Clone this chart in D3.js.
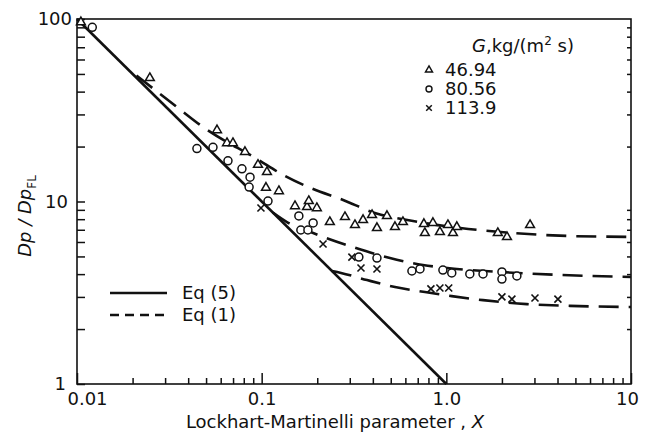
<!DOCTYPE html>
<html>
<head>
<meta charset="utf-8">
<script src="https://cdn.jsdelivr.net/npm/d3@7"></script>
<style>
  body { margin: 0; background: #fff; }
  text { font-family: "DejaVu Sans", "Liberation Sans", sans-serif; fill: #111; }
</style>
</head>
<body>
<div id="chart"></div>
<script>
// values (X, Dp/DpFL)
const triangleData = [[0.0105,96],[0.0248,47.5],[0.0573,24.6],[0.0649,20.9],[0.0699,20.9],[0.0812,18.7],
  [0.0955,15.9],[0.1068,14.5],[0.1055,11.9],[0.124,11.4],[0.1515,9.44],[0.176,9.33],[0.18,10.06],[0.199,9.2],
  [0.234,7.72],[0.2825,8.22],[0.32,7.43],[0.354,7.92],[0.396,8.43],[0.421,7.16],[0.477,8.33],[0.527,7.25],
  [0.582,7.72],[0.756,7.53],[0.846,7.63],[0.765,6.72],[0.923,6.81],[1.02,7.43],[1.086,6.72],[1.14,7.25],
  [1.9,6.72],[2.13,6.39],[2.84,7.43]];
const circleData = [[0.0121,90],[0.0446,19.5],[0.0545,19.8],[0.0657,16.7],[0.0782,15.1],[0.0865,13.6],
  [0.0855,12.0],[0.1082,10.06],[0.159,8.33],[0.163,6.98],[0.178,6.98],[0.19,7.63],[0.336,4.96],[0.421,4.9],
  [0.651,4.16],[0.72,4.27],[0.958,4.21],[1.07,4.06],[1.34,4.01],[1.58,4.01],[2.0,4.11],[2.0,3.76],[2.41,3.91]];
const crossData = [[0.0991,9.21],[0.215,5.85],[0.308,4.96],[0.345,4.32],[0.421,4.27],[0.825,3.32],
  [0.923,3.36],[1.03,3.36],[2.0,3.0],[2.265,2.92],[3.02,2.96],[4.02,2.92]];

const eq5Line = [[0.01,100],[1,1]];
const eq1Upper = [[0.021,49],[0.0348,32.9],[0.0481,25.6],[0.0943,17.1],[0.1337,13.8],[0.19,11.7],
  [0.276,10.2],[0.41,8.65],[0.66,7.82],[1.19,7.16],[2.29,6.72],[4.67,6.47],[10,6.4]];
const eq1Middle = [[0.115,8.7],[0.137,7.72],[0.19,6.72],[0.312,5.63],[0.495,4.9],[0.747,4.49],
  [1.14,4.27],[1.95,4.11],[4.12,3.96],[10,3.86]];
const eq1Lower = [[0.24,4.16],[0.269,4.06],[0.372,3.71],[0.527,3.4],[0.766,3.19],[1.07,3.03],
  [1.58,2.88],[2.73,2.74],[4.67,2.68],[10,2.64]];

const xMajor = [0.01, 0.1, 1, 10];
const xTickLabels = ["0.01", "0.1", "1.0", "10"];
const yMajor = [1, 10, 100];
const yTickLabels = ["1", "10", "100"];
const legendSeries = ["46.94", "80.56", "113.9"];

const width = 645, height = 434;
const plotLeft = 77, plotRight = 631, plotTop = 19, plotBottom = 384;

const svg = d3.select("#chart").append("svg")
  .attr("width", width)
  .attr("height", height);

const x = d3.scaleLog().domain([0.01, 10]).range([plotLeft, plotRight]);
const y = d3.scaleLog().domain([1, 100]).range([plotBottom, plotTop]);

const minorX = [];
[0.01, 0.1, 1].forEach(d => { for (let k = 2; k <= 9; k++) minorX.push(d * k); });
const minorY = [];
[1, 10].forEach(d => { for (let k = 2; k <= 9; k++) minorY.push(d * k); });

// frame
svg.append("rect")
  .attr("x", plotLeft).attr("y", plotTop)
  .attr("width", plotRight - plotLeft).attr("height", plotBottom - plotTop)
  .attr("fill", "none").attr("stroke", "#111").attr("stroke-width", 1.6);

function styleAxis(g) {
  g.select(".domain").remove();
  g.selectAll("line").attr("stroke", "#111").attr("stroke-width", 1.5);
  g.selectAll("text").attr("font-size", 18).attr("font-family", "DejaVu Sans, sans-serif").attr("fill", "#111");
}

// x axis, ticks inward
svg.append("g").attr("transform", `translate(0,${plotBottom})`)
  .call(d3.axisBottom(x).tickValues(minorX).tickSize(-6).tickFormat(""))
  .call(styleAxis);
svg.append("g").attr("transform", `translate(0,${plotBottom})`)
  .call(d3.axisBottom(x).tickValues(xMajor).tickSize(-11).tickPadding(8)
    .tickFormat((d, i) => xTickLabels[i]))
  .call(styleAxis)
  .call(g => g.selectAll(".tick text").attr("dx", d => d === 0.01 ? 10 : (d === 10 ? -4 : 0)));

// y axis, ticks inward
svg.append("g").attr("transform", `translate(${plotLeft},0)`)
  .call(d3.axisLeft(y).tickValues(minorY).tickSize(-8).tickFormat(""))
  .call(styleAxis);
svg.append("g").attr("transform", `translate(${plotLeft},0)`)
  .call(d3.axisLeft(y).tickValues(yMajor).tickSize(-8).tickPadding(7)
    .tickFormat((d, i) => yTickLabels[i]))
  .call(styleAxis)
  .call(g => g.selectAll(".tick text").attr("dx", d => d === 100 ? 2 : (d === 1 ? -4 : -2)));

// right side small ticks
svg.append("g").attr("transform", `translate(${plotRight},0)`)
  .call(d3.axisRight(y).tickValues(minorY).tickSize(-4).tickFormat(""))
  .call(styleAxis);

// lines
const line = d3.line().x(d => x(d[0])).y(d => y(d[1]));
const curve = d3.line().x(d => x(d[0])).y(d => y(d[1])).curve(d3.curveMonotoneX);

svg.append("path").datum(eq5Line)
  .attr("d", line)
  .attr("fill", "none").attr("stroke", "#111").attr("stroke-width", 2.6);

[eq1Upper, eq1Middle, eq1Lower].forEach(s => {
  svg.append("path").datum(s)
    .attr("d", curve)
    .attr("fill", "none").attr("stroke", "#111").attr("stroke-width", 2.6)
    .attr("stroke-dasharray", "20,10");
});

// markers
const tri = d3.symbol().type(d3.symbolTriangle).size(34);
svg.append("g").selectAll("path")
  .data(triangleData).enter().append("path")
  .attr("transform", d => `translate(${x(d[0])},${y(d[1])})`)
  .attr("d", tri)
  .attr("fill", "#fff").attr("stroke", "#111").attr("stroke-width", 1.5);

svg.append("g").selectAll("circle")
  .data(circleData).enter().append("circle")
  .attr("cx", d => x(d[0])).attr("cy", d => y(d[1])).attr("r", 4)
  .attr("fill", "#fff").attr("stroke", "#111").attr("stroke-width", 1.5);

function crossPath(cx, cy, s) {
  return `M${cx - s},${cy - s}L${cx + s},${cy + s}M${cx - s},${cy + s}L${cx + s},${cy - s}`;
}
svg.append("g").selectAll("path")
  .data(crossData).enter().append("path")
  .attr("d", d => crossPath(x(d[0]), y(d[1]), 3.5))
  .attr("fill", "none").attr("stroke", "#111").attr("stroke-width", 1.6);

// axis titles
const xTitle = svg.append("text")
  .attr("x", 335).attr("y", 428)
  .attr("text-anchor", "middle").attr("font-size", 18);
xTitle.append("tspan").text("Lockhart-Martinelli parameter , ");
xTitle.append("tspan").attr("font-style", "italic").text("X");

const yTitle = svg.append("text")
  .attr("transform", "translate(31,216) rotate(-90)")
  .attr("text-anchor", "middle").attr("font-size", 18);
yTitle.append("tspan").attr("font-style", "italic").text("Dp / Dp");
yTitle.append("tspan").attr("font-size", 12).attr("dy", 5).text("FL");

// legend, top right
const lg = svg.append("g");
const lgTitle = lg.append("text").attr("x", 472).attr("y", 52).attr("font-size", 18);
lgTitle.append("tspan").attr("font-style", "italic").text("G");
lgTitle.append("tspan").text(",kg/(m");
lgTitle.append("tspan").attr("font-size", 12).attr("dy", -7).text("2");
lgTitle.append("tspan").attr("dy", 7).text(" s)");

legendSeries.forEach((lab, i) => {
  const ly = 70 + i * 19;
  lg.append("text").attr("x", 445).attr("y", ly + 6).attr("font-size", 18).text(lab);
});
lg.append("path").attr("transform", "translate(429,70)").attr("d", d3.symbol().type(d3.symbolTriangle).size(22))
  .attr("fill", "#fff").attr("stroke", "#111").attr("stroke-width", 1.4);
lg.append("circle").attr("cx", 429).attr("cy", 89).attr("r", 3)
  .attr("fill", "#fff").attr("stroke", "#111").attr("stroke-width", 1.4);
lg.append("path").attr("d", crossPath(429, 108, 2.8))
  .attr("fill", "none").attr("stroke", "#111").attr("stroke-width", 1.5);

// legend, bottom left
lg.append("line").attr("x1", 110).attr("x2", 167).attr("y1", 293).attr("y2", 293)
  .attr("stroke", "#111").attr("stroke-width", 2.6);
lg.append("text").attr("x", 182).attr("y", 299).attr("font-size", 18).text("Eq (5)");
lg.append("line").attr("x1", 110).attr("x2", 167).attr("y1", 315).attr("y2", 315)
  .attr("stroke", "#111").attr("stroke-width", 2.6).attr("stroke-dasharray", "9,6");
lg.append("text").attr("x", 182).attr("y", 321).attr("font-size", 18).text("Eq (1)");
</script>
</body>
</html>
